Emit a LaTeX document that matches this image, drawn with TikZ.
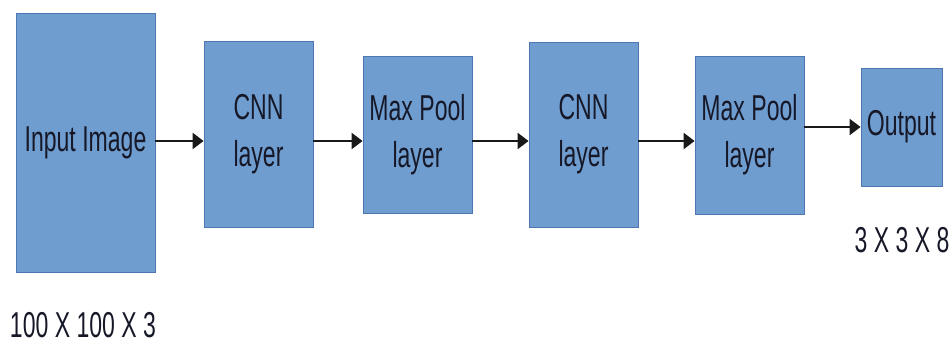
\documentclass[tikz,border=0pt]{standalone}
\usepackage{fontspec}
\usetikzlibrary{arrows.meta}
\newfontfamily\labfont[FakeStretch=0.64]{Liberation Sans}
\definecolor{boxfill}{RGB}{111,157,207}
\definecolor{boxline}{RGB}{78,118,178}
\definecolor{txt}{RGB}{22,24,40}
\tikzset{
  layerbox/.style={draw=boxline, line width=0.8pt, fill=boxfill, inner sep=0pt,
    align=center, text=txt, font=\labfont\fontsize{36}{47}\selectfont},
  dimlabel/.style={inner sep=0pt, text=txt, font=\labfont\fontsize{36}{47}\selectfont},
  flow/.style={line width=2pt, draw=black!90, -{Triangle[length=11pt,width=16pt]}}
}
\begin{document}
\begin{tikzpicture}[x=1pt,y=-1pt]
\useasboundingbox (0,0) rectangle (951,345);
\node[layerbox, minimum width=139pt, minimum height=259pt] (in) at (85.5,142.5) {Input Image};
\node[layerbox, minimum width=109pt, minimum height=186pt] (cnn1) at (258.5,134) {CNN\\layer};
\node[layerbox, minimum width=109pt, minimum height=157pt] (mp1) at (417.5,134.5) {Max Pool\\layer};
\node[layerbox, minimum width=109pt, minimum height=185pt] (cnn2) at (583.5,134.5) {CNN\\layer};
\node[layerbox, minimum width=109pt, minimum height=158pt] (mp2) at (749.5,135) {Max Pool\\layer};
\node[layerbox, minimum width=81pt, minimum height=118pt] (out) at (901.5,127) {Output};
\node[dimlabel] (dimin) at (83,325) {100 X 100 X 3};
\node[dimlabel] (dimout) at (902,240) {3 X 3 X 8};
\coordinate (lvl) at (0,141);
\draw[flow] (in.east |- lvl) -- (cnn1.west |- lvl);
\draw[flow] (cnn1.east |- lvl) -- (mp1.west |- lvl);
\draw[flow] (mp1.east |- lvl) -- (cnn2.west |- lvl);
\draw[flow] (cnn2.east |- lvl) -- (mp2.west |- lvl);
\draw[flow] (mp2.east |- out.west) -- (out.west);
\end{tikzpicture}
\end{document}
